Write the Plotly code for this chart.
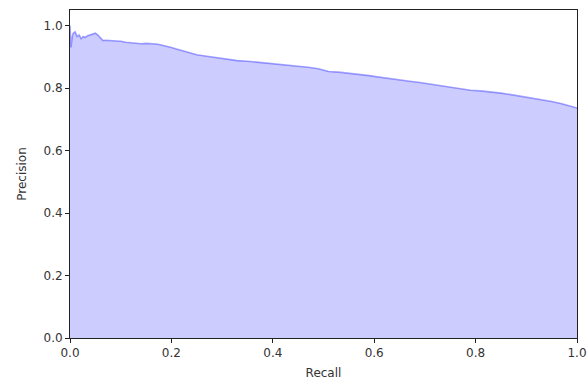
import plotly.graph_objects as go

recall = [0.0, 0.002, 0.004, 0.006, 0.01, 0.014, 0.018, 0.022, 0.026, 0.03, 0.035, 0.04, 0.045,
          0.05, 0.055, 0.06, 0.065, 0.07, 0.08, 0.09, 0.10, 0.11, 0.12, 0.13, 0.14, 0.15, 0.16,
          0.17, 0.18, 0.19, 0.20, 0.21, 0.22, 0.23, 0.24, 0.25, 0.27, 0.29, 0.31, 0.33, 0.35,
          0.37, 0.39, 0.41, 0.43, 0.45, 0.47, 0.49, 0.51, 0.53, 0.55, 0.57, 0.59, 0.61, 0.63,
          0.65, 0.67, 0.69, 0.71, 0.73, 0.75, 0.77, 0.79, 0.81, 0.83, 0.85, 0.87, 0.89, 0.91,
          0.93, 0.95, 0.97, 0.99, 1.0]
precision = [1.0, 0.93, 0.96, 0.975, 0.98, 0.965, 0.97, 0.958, 0.965, 0.962, 0.968, 0.97, 0.972,
             0.976, 0.97, 0.96, 0.952, 0.953, 0.952, 0.953, 0.95, 0.947, 0.945, 0.942, 0.942,
             0.943, 0.943, 0.941, 0.938, 0.935, 0.93, 0.925, 0.92, 0.915, 0.91, 0.907, 0.902,
             0.897, 0.891, 0.888, 0.886, 0.883, 0.880, 0.878, 0.875, 0.871, 0.867, 0.862, 0.853,
             0.851, 0.848, 0.843, 0.840, 0.835, 0.830, 0.827, 0.822, 0.818, 0.813, 0.808, 0.805,
             0.800, 0.793, 0.791, 0.788, 0.784, 0.779, 0.774, 0.769, 0.764, 0.757, 0.750, 0.741,
             0.736]
tick_vals = [0.0, 0.2, 0.4, 0.6, 0.8, 1.0]

fig = go.Figure()
fig.add_trace(go.Scatter(
    x=recall, y=precision, mode="lines",
    fill="tozeroy", fillcolor="rgba(0,0,255,0.2)",
    line=dict(color="rgba(0,0,255,0.35)", width=1.6),
    showlegend=False, hoverinfo="skip"))

axis_common = dict(showgrid=False, zeroline=False, showline=True, mirror=True,
                   linecolor="#222", linewidth=1, ticks="outside", ticklen=4,
                   tickcolor="#222", tickvals=tick_vals, tickformat=".1f",
                   tickfont=dict(size=12, color="#333"), automargin=False)

fig.update_layout(
    width=587, height=385,
    margin=dict(l=70, r=10, t=10, b=47),
    paper_bgcolor="white", plot_bgcolor="white",
    font=dict(family="DejaVu Sans", size=12, color="#333"),
    xaxis=dict(range=[0, 1], title=dict(text="Recall", standoff=9,
               font=dict(size=12)), **axis_common),
    yaxis=dict(range=[0, 1.05], title=dict(text="Precision", standoff=14,
               font=dict(size=12)), **axis_common),
)

fig.write_html("out.html")
